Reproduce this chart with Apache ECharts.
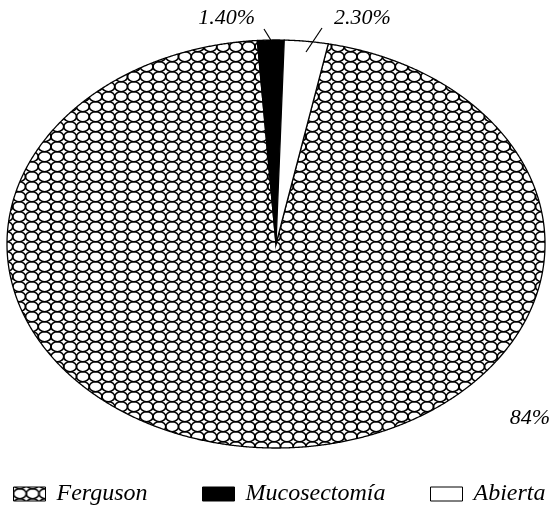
<!DOCTYPE html>
<html><head><meta charset="utf-8">
<script src="https://cdn.jsdelivr.net/npm/echarts@6/dist/echarts.min.js"></script>
<style>html,body{margin:0;padding:0;background:#fff}#c{width:552px;height:505px}</style>
</head><body><div id="c"></div>
<script>
// ---- data ----
const categories = ['Ferguson', 'Mucosectomía', 'Abierta'];
const values = [84, 1.4, 2.3];
const valueLabels = ['84%', '1.40%', '2.30%'];

// ---- layout / style ----
const CX = 276, CY = 244, RX = 269, RY = 204;
const START_DEG = 11.2; // first slice start, clockwise from 12 o'clock
const FONT = '"Liberation Serif", "Times New Roman", serif';
const labelPos = [
  {x: 550, y: 429, align: 'right'},
  {x: 255, y: 29, align: 'right', lead: [264, 29, 272, 42]},
  {x: 334, y: 29, align: 'left', lead: [322, 28, 306, 52]}
];
const legendLeft = [8, 197, 425];

function makePattern() {
  const cw = 12.75, ch = 10, nx = 4, ny = 4;
  const c = document.createElement('canvas');
  c.width = cw * nx; c.height = ch * ny;
  const g = c.getContext('2d');
  g.fillStyle = '#fff'; g.fillRect(0, 0, c.width, c.height);
  g.strokeStyle = '#000'; g.lineWidth = 1.6;
  for (let i = -1; i <= nx; i++) for (let j = -1; j <= ny; j++) {
    g.beginPath();
    g.ellipse((i + 0.5) * cw, (j + 0.5) * ch + 1.7, cw / 2, ch / 2, 0, 0, Math.PI * 2);
    g.stroke();
  }
  return c;
}
const pattern = {image: makePattern(), repeat: 'repeat'};
const fills = [pattern, '#000', '#fff'];

const total = values.reduce((a, b) => a + b, 0);
function sliceRange(idx) {
  let a = START_DEG;
  for (let k = 0; k < idx; k++) a += values[k] / total * 360;
  return [a, a + values[idx] / total * 360];
}
function pt(deg) {
  const t = deg * Math.PI / 180;
  return [CX + RX * Math.sin(t), CY - RY * Math.cos(t)];
}
function renderer(idx) {
  return function (params, api) {
    const [a0, a1] = sliceRange(idx);
    const pts = [[CX, CY]];
    const n = Math.max(2, Math.ceil((a1 - a0) / 0.25));
    for (let k = 0; k <= n; k++) pts.push(pt(a0 + (a1 - a0) * k / n));
    const children = [{
      type: 'polygon', shape: {points: pts},
      style: {fill: fills[idx], stroke: '#000', lineWidth: 1.3, lineJoin: 'miter'}
    }];
    const lp = labelPos[idx];
    if (lp.lead) children.push({
      type: 'line', shape: {x1: lp.lead[0], y1: lp.lead[1], x2: lp.lead[2], y2: lp.lead[3]},
      style: {stroke: '#000', lineWidth: 1.2}, z2: 10
    });
    children.push({
      type: 'text', z2: 10,
      style: {text: valueLabels[idx], x: lp.x, y: lp.y, align: lp.align, verticalAlign: 'bottom',
        font: 'italic 22px ' + FONT, fill: '#000'}
    });
    return {type: 'group', children};
  };
}

const chart = echarts.init(document.getElementById('c'), null, {renderer: 'canvas'});
chart.setOption({
  animation: false,
  backgroundColor: '#fff',
  legend: categories.map((name, i) => ({
    data: [{name, icon: 'rect', itemStyle: {color: fills[i], borderColor: '#000', borderWidth: 1}}],
    left: legendLeft[i], top: 477, itemWidth: 32, itemHeight: 14, selectedMode: false,
    textStyle: {fontFamily: FONT, fontStyle: 'italic', fontSize: 24, color: '#000', padding: [0, 0, 0, 6]}
  })),
  series: categories.map((name, i) => ({
    type: 'custom', name, coordinateSystem: 'none',
    itemStyle: {color: fills[i], borderColor: '#000', borderWidth: 1},
    renderItem: renderer(i),
    data: [[values[i]]]
  }))
});
</script></body></html>
